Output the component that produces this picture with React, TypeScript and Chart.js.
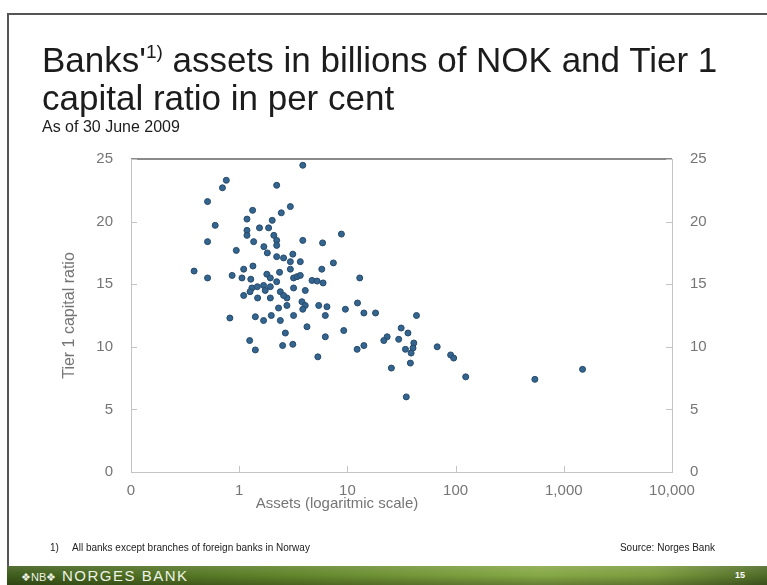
import React, { useEffect, useRef } from "react";
import { Chart, registerables } from "chart.js";

Chart.register(...registerables);

// Bank assets (billions of NOK, log scale)
const assets: number[] = [
  3.87, 0.76, 0.70, 2.22, 0.51, 2.97, 1.33, 2.45, 1.18, 2.02,
  0.60, 1.54, 1.87, 1.18, 1.18, 2.09, 2.22, 2.22, 0.51, 1.36,
  3.87, 5.9, 8.8, 0.94, 1.69, 1.82, 2.22, 2.57, 3.13, 2.97,
  3.67, 7.42, 0.383, 0.51, 0.86, 1.10, 1.34, 1.06, 1.28, 1.80,
  1.94, 2.36, 2.97, 3.18, 3.42, 3.67, 5.8, 4.71, 5.25, 5.96,
  13.0, 1.31, 1.68, 1.94, 2.22, 1.10, 1.26, 1.48, 1.74, 1.94,
  2.40, 2.76, 3.18, 4.08, 3.80, 4.08, 5.43, 6.47, 9.58, 12.4,
  14.2, 18.2, 2.31, 2.76, 1.98, 2.40, 0.82, 1.41, 1.68, 3.18,
  6.25, 4.23, 9.25, 2.67, 6.25, 23.3, 21.7, 1.25, 1.41, 2.52,
  3.13, 5.33, 12.3, 14.2, 43.5, 31.4, 36.3, 29.8, 41.1, 34.4,
  40.4, 38.8, 67.6, 90, 96, 25.5, 38.2, 124, 35, 540,
  1490, 2.57, 3.87, 1.47,
];

// Tier 1 capital ratio (per cent)
const tier1: number[] = [
  24.5, 23.3, 22.7, 22.9, 21.6, 21.2, 20.9, 20.7, 20.2, 20.1,
  19.7, 19.5, 19.5, 19.3, 18.9, 18.9, 18.5, 18.1, 18.4, 18.4,
  18.5, 18.3, 19.0, 17.7, 18.0, 17.5, 17.2, 17.1, 17.4, 16.8,
  16.8, 16.7, 16.05, 15.5, 15.7, 16.2, 16.45, 15.5, 15.4, 15.8,
  15.5, 15.95, 16.2, 15.5, 15.6, 15.7, 16.2, 15.3, 15.25, 15.1,
  15.5, 14.7, 14.9, 14.8, 15.2, 14.1, 14.4, 13.9, 14.5, 13.9,
  14.4, 13.9, 14.7, 14.5, 13.6, 13.3, 13.3, 13.2, 13.0, 13.5,
  12.7, 12.7, 13.1, 13.3, 12.5, 12.1, 12.3, 12.4, 12.1, 12.5,
  12.5, 11.6, 11.3, 11.1, 10.8, 10.8, 10.5, 10.5, 9.75, 10.1,
  10.2, 9.2, 9.8, 10.1, 12.5, 11.5, 11.1, 10.6, 10.3, 9.8,
  9.9, 9.5, 10.0, 9.35, 9.1, 8.3, 8.7, 7.6, 6.0, 7.4,
  8.2, 14.1, 13.0, 14.8,
];

const xTickValues: number[] = [0.1, 1, 10, 100, 1000, 10000];
const xTickLabels: string[] = ["0", "1", "10", "100", "1,000", "10,000"];
const yTickValues: number[] = [0, 5, 10, 15, 20, 25];

const FONT = "'Liberation Sans', Arial, sans-serif";
const TICK_COLOR = "#757575";
const AXIS_COLOR = "#c4c4c4";

const frameAndTicks = {
  id: "frameAndTicks",
  afterDraw(chart: any) {
    const { ctx, chartArea } = chart;
    const x = chart.scales.x;
    const y = chart.scales.y;
    ctx.save();
    // top border line
    ctx.strokeStyle = "#8a8a8a";
    ctx.lineWidth = 2;
    ctx.beginPath();
    ctx.moveTo(chartArea.left, chartArea.top);
    ctx.lineTo(chartArea.right, chartArea.top);
    ctx.stroke();
    // inward tick marks
    ctx.strokeStyle = AXIS_COLOR;
    ctx.lineWidth = 1;
    const len = 6;
    yTickValues.forEach((v) => {
      const py = Math.round(y.getPixelForValue(v)) + 0.5;
      ctx.beginPath();
      ctx.moveTo(chartArea.left, py);
      ctx.lineTo(chartArea.left + len, py);
      ctx.moveTo(chartArea.right - len, py);
      ctx.lineTo(chartArea.right, py);
      ctx.stroke();
    });
    xTickValues.forEach((v) => {
      const px = Math.round(x.getPixelForValue(v)) + 0.5;
      ctx.beginPath();
      ctx.moveTo(px, chartArea.bottom);
      ctx.lineTo(px, chartArea.bottom - len);
      ctx.stroke();
    });
    ctx.restore();
  },
};

function ScatterChart() {
  const ref = useRef<HTMLCanvasElement | null>(null);
  useEffect(() => {
    if (!ref.current) return;
    const points = assets.map((a, i) => ({ x: a, y: tier1[i] }));
    const chart = new Chart(ref.current, {
      type: "scatter",
      data: {
        datasets: [
          {
            label: "Banks",
            data: points,
            backgroundColor: "#33658f",
            borderColor: "#264a6c",
            borderWidth: 1,
            pointRadius: 3,
          },
        ],
      },
      options: {
        animation: false,
        responsive: false,
        maintainAspectRatio: false,
        layout: { padding: { left: 60, right: 45, top: 159, bottom: 73 } },
        plugins: {
          legend: { display: false },
          tooltip: { enabled: false },
        },
        scales: {
          x: {
            type: "logarithmic",
            position: "bottom",
            min: 0.1,
            max: 10000,
            afterBuildTicks: (scale: any) => {
              scale.ticks = xTickValues.map((v) => ({ value: v }));
            },
            afterFit: (scale: any) => {
              scale.height = 40;
            },
            ticks: {
              color: TICK_COLOR,
              font: { family: FONT, size: 15 },
              padding: 10,
              maxRotation: 0,
              autoSkip: false,
              callback: (value: any) => {
                const idx = xTickValues.indexOf(Number(value));
                return idx >= 0 ? xTickLabels[idx] : "";
              },
            },
            grid: { display: false, drawTicks: false },
            border: { display: true, color: AXIS_COLOR, width: 1 },
          },
          y: {
            type: "linear",
            position: "left",
            min: 0,
            max: 25,
            afterBuildTicks: (scale: any) => {
              scale.ticks = yTickValues.map((v) => ({ value: v }));
            },
            afterFit: (scale: any) => {
              scale.width = 71;
            },
            ticks: {
              color: TICK_COLOR,
              font: { family: FONT, size: 15 },
              padding: 18,
            },
            title: {
              display: true,
              text: "Tier 1 capital ratio",
              color: TICK_COLOR,
              font: { family: FONT, size: 16 },
              padding: 0,
            },
            grid: { display: false, drawTicks: false },
            border: { display: true, color: AXIS_COLOR, width: 1 },
          },
          y2: {
            type: "linear",
            position: "right",
            min: 0,
            max: 25,
            afterBuildTicks: (scale: any) => {
              scale.ticks = yTickValues.map((v) => ({ value: v }));
            },
            afterFit: (scale: any) => {
              scale.width = 50;
            },
            ticks: {
              color: TICK_COLOR,
              font: { family: FONT, size: 15 },
              padding: 18,
            },
            grid: { display: false, drawTicks: false },
            border: { display: true, color: AXIS_COLOR, width: 1 },
          },
        },
      },
      plugins: [frameAndTicks],
    });
    return () => chart.destroy();
  }, []);
  return (
    <canvas
      ref={ref}
      width={767}
      height={585}
      style={{ position: "absolute", left: 0, top: 0, width: 767, height: 585 }}
    />
  );
}

export default function App() {
  return (
    <div
      style={{
        position: "absolute",
        left: 0,
        top: 0,
        width: 767,
        height: 585,
        overflow: "hidden",
        background: "#ffffff",
        fontFamily: FONT,
      }}
    >
      {/* slide frame */}
      <div style={{ position: "absolute", left: 7, top: 13, width: 770, height: 560, borderTop: "2px solid #555", borderLeft: "2px solid #555" }} />
      <ScatterChart />
      <div style={{ position: "absolute", left: 42, top: 41, fontSize: 35, lineHeight: "38px", color: "#1c1c1c", whiteSpace: "nowrap" }}>
        Banks'<sup style={{ fontSize: 19, verticalAlign: "top", lineHeight: "22px" }}>1)</sup> assets in billions of NOK and Tier 1
        <br />
        capital ratio in per cent
      </div>
      <div style={{ position: "absolute", left: 42, top: 118, fontSize: 16, color: "#1c1c1c", whiteSpace: "nowrap" }}>
        As of 30 June 2009
      </div>
      <div style={{ position: "absolute", left: 337, top: 494, transform: "translateX(-50%)", fontSize: 15, color: TICK_COLOR, whiteSpace: "nowrap" }}>
        Assets (logaritmic scale)
      </div>
      <div style={{ position: "absolute", left: 50, top: 542, fontSize: 10, color: "#222", whiteSpace: "nowrap" }}>1)</div>
      <div style={{ position: "absolute", left: 72, top: 542, fontSize: 10, color: "#222", whiteSpace: "nowrap" }}>
        All banks except branches of foreign banks in Norway
      </div>
      <div style={{ position: "absolute", right: 52, top: 542, fontSize: 10, color: "#222", whiteSpace: "nowrap" }}>
        Source: Norges Bank
      </div>
      {/* footer band */}
      <div
        style={{
          position: "absolute",
          left: 7,
          top: 566,
          width: 760,
          height: 19,
          background: "linear-gradient(90deg, #3e5c1b 0%, #5f8229 35%, #86a845 70%, #7c9c3e 85%, #4e6a26 100%)",
        }}
      >
        <div style={{ position: "absolute", left: 0, top: 0, right: 0, bottom: 0, background: "linear-gradient(180deg, rgba(255,255,255,0.12) 0%, rgba(0,0,0,0.0) 50%, rgba(0,0,0,0.25) 100%)" }} />
        <div style={{ position: "absolute", left: 14, top: 1, fontSize: 15, color: "#eef2e6", letterSpacing: 1.5, whiteSpace: "nowrap", lineHeight: "18px" }}>
          <span style={{ fontSize: 11, letterSpacing: 0 }}>❖NB❖</span> NORGES BANK
        </div>
        <div style={{ position: "absolute", right: 22, top: 4, fontSize: 9, fontWeight: "bold", color: "#ffffff" }}>15</div>
      </div>
    </div>
  );
}
